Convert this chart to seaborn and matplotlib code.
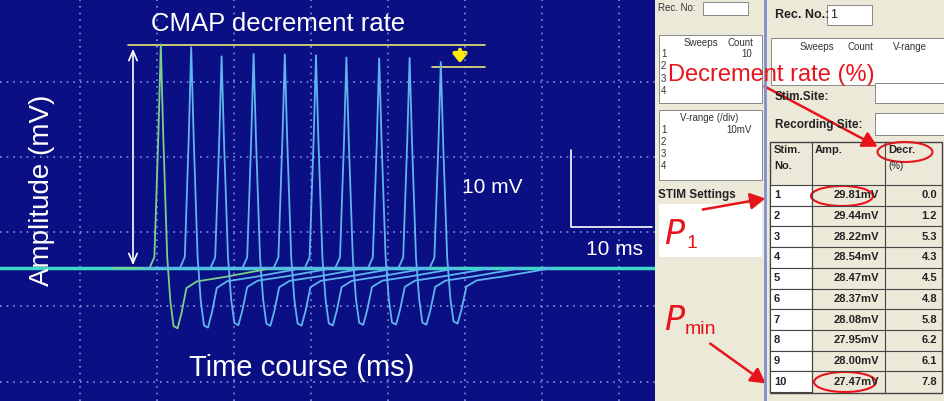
import numpy as np
import pandas as pd
import matplotlib
matplotlib.use("Agg")
import matplotlib.pyplot as plt
import seaborn as sns
from matplotlib.patches import Ellipse, Rectangle, FancyArrowPatch

sns.set_theme(style="white")
plt.rcParams['font.family'] = ['Liberation Sans', 'DejaVu Sans']

# ---- data ----
stim_no = [1, 2, 3, 4, 5, 6, 7, 8, 9, 10]
amp_mv = [29.81, 29.44, 28.22, 28.54, 28.47, 28.37, 28.08, 27.95, 28.00, 27.47]
decr_pct = [0.0, 1.2, 5.3, 4.3, 4.5, 4.8, 5.8, 6.2, 6.1, 7.8]
peak_ms = [20.1, 23.9, 27.7, 31.7, 35.6, 39.5, 43.3, 47.4, 51.2, 55.1]
# waveform template: offset from peak (ms), relative amplitude
tmpl_dt = [-6.0, -1.4, -0.8, -0.3, 0.0, 0.3, 0.8, 1.2, 1.6, 2.1, 2.6, 3.2, 4.5, 8.0, 14.0]
tmpl_rel = [0.0, 0.0, 0.05, 0.6, 1.0, 0.6, 0.05, -0.15, -0.26, -0.27, -0.2, -0.09, -0.06, -0.04, 0.0]

rows = []
for i, (pk, a) in enumerate(zip(peak_ms, amp_mv)):
    for dt, r in zip(tmpl_dt, tmpl_rel):
        rows.append({"sweep": i + 1, "t": pk + dt, "v": a * r})
df = pd.DataFrame(rows)

fig = plt.figure(figsize=(9.44, 4.01), dpi=100)
ax = fig.add_axes([0, 0, 655 / 944, 1])
ax.set_facecolor("#0b0f84")
PX = 8.0     # px per ms
PY = 7.5     # px per mV
BASE = 268
ax.set_xlim(0, 655 / PX)
ax.set_ylim((BASE - 401) / PY, BASE / PY)
for s in ax.spines.values():
    s.set_visible(False)
ax.set_xticks([]); ax.set_yticks([])

def X(px): return px / PX
def Y(py): return (BASE - py) / PY

for gy in [82, 157, 232, 306, 382]:
    ax.axhline(Y(gy), color="#8090d8", lw=1.2, ls=(0, (1, 3)))
for gx in [80, 157, 234, 311, 388, 465, 542, 619]:
    ax.axvline(X(gx), color="#8090d8", lw=1.2, ls=(0, (1, 3)))

ax.plot([0, X(655)], [0, 0], color="#3fd8c8", lw=2.5, zorder=2)
palette = {i: ("#7ccf8a" if i == 1 else "#5fb4f0") for i in stim_no}
sns.lineplot(data=df, x="t", y="v", hue="sweep", palette=palette, sort=False,
             estimator=None, legend=False, lw=1.3, ax=ax, zorder=3)
ax.set_xlabel(""); ax.set_ylabel("")

# annotations
ax.plot([X(128), X(485)], [Y(45), Y(45)], color="#e8e870", lw=1.2)
ax.plot([X(432), X(485)], [Y(67), Y(67)], color="#e8e870", lw=1.2)
ax.add_patch(FancyArrowPatch((X(460), Y(47)), (X(460), Y(66)), arrowstyle="-|>,head_width=4,head_length=5",
                             color="#ffee00", lw=3, mutation_scale=1))
ax.add_patch(FancyArrowPatch((X(133), Y(46)), (X(133), Y(268)), arrowstyle="<->,head_width=3,head_length=7",
                             color="white", lw=1.2, mutation_scale=1))
ax.text(X(278), Y(24), "CMAP decrement rate", color="white", fontsize=18.5, ha="center", va="center")
ax.text(X(42), Y(190), "Amplitude (mV)", color="white", fontsize=20, ha="center", va="center", rotation=90)
ax.text(X(302), Y(368), "Time course (ms)", color="white", fontsize=21, ha="center", va="center")
ax.text(X(492), Y(188), "10 mV", color="white", fontsize=15, ha="center", va="center")
ax.text(X(615), Y(250), "10 ms", color="white", fontsize=15, ha="center", va="center")
ax.plot([X(571), X(571), X(652)], [Y(150), Y(227), Y(227)], color="white", lw=1.2)

# ---- right panel (software screenshot) ----
rx = fig.add_axes([655 / 944, 0, 289 / 944, 1])
rx.set_xlim(655, 944); rx.set_ylim(401, 0)
rx.set_facecolor("#ece9d8")
rx.set_xticks([]); rx.set_yticks([])
for s in rx.spines.values():
    s.set_visible(False)
rx.axvline(765, color="#7f8fd0", lw=2)
g = dict(color="#333333", fontsize=7)
rx.text(658, 8, "Rec. No:", va="center", **g)
rx.add_patch(Rectangle((703, 2), 45, 13, fc="white", ec="#888888", lw=0.7))
rx.text(775, 15, "Rec. No.:", va="center", fontsize=9, weight="bold", color="#222222")
rx.add_patch(Rectangle((827, 5), 45, 20, fc="white", ec="#888888", lw=0.7))
rx.text(830, 15, "1", va="center", fontsize=9, color="#222222")
rx.add_patch(Rectangle((659, 35), 103, 68, fc="white", ec="#888888", lw=0.7))
rx.text(684, 43, "Sweeps", va="center", **g); rx.text(728, 43, "Count", va="center", **g)
rx.text(752, 54, "10", ha="right", va="center", **g)
for k, yy in enumerate([54, 66, 79, 91]):
    rx.text(661, yy, str(k + 1), va="center", **g)
rx.add_patch(Rectangle((771, 38), 173, 47, fc="white", ec="#888888", lw=0.7))
rx.text(800, 47, "Sweeps", va="center", **g); rx.text(848, 47, "Count", va="center", **g)
rx.text(893, 47, "V-range", va="center", **g)
rx.add_patch(Rectangle((659, 110), 103, 70, fc="white", ec="#888888", lw=0.7))
rx.text(680, 118, "V-range (/div)", va="center", **g)
rx.text(752, 130, "10mV", ha="right", va="center", **g)
for k, yy in enumerate([130, 142, 154, 166]):
    rx.text(661, yy, str(k + 1), va="center", **g)
rx.text(775, 97, "Stim.Site:", va="center", fontsize=8.5, weight="bold", color="#222222")
rx.add_patch(Rectangle((875, 83), 69, 20, fc="white", ec="#888888", lw=0.7))
rx.text(775, 125, "Recording Site:", va="center", fontsize=8.5, weight="bold", color="#222222")
rx.add_patch(Rectangle((875, 113), 69, 22, fc="white", ec="#888888", lw=0.7))
rx.text(658, 195, "STIM Settings", va="center", fontsize=8.5, weight="bold", color="#222222")
rx.add_patch(Rectangle((659, 204), 103, 53, fc="white", ec="none"))

# table
top, rh = 185, 20.7
cx = [770, 812, 885, 942]
rx.add_patch(Rectangle((770, 142), 172, 251, fc="none", ec="#444444", lw=1))
for xx in cx[1:3]:
    rx.plot([xx, xx], [142, 393], color="#444444", lw=0.8)
rx.text(774, 150, "Stim.", va="center", fontsize=8, weight="bold", color="#222222")
rx.text(774, 166, "No.", va="center", fontsize=8, weight="bold", color="#222222")
rx.text(815, 150, "Amp.", va="center", fontsize=8, weight="bold", color="#222222")
rx.text(888, 150, "Decr.", va="center", fontsize=8, weight="bold", color="#222222")
rx.text(888, 166, "(%)", va="center", fontsize=7, color="#222222")
for i, (n, a, d) in enumerate(zip(stim_no, amp_mv, decr_pct)):
    y0 = top + i * rh
    rx.add_patch(Rectangle((770, y0), 42, rh, fc="white", ec="#444444", lw=0.8))
    rx.plot([812, 942], [y0, y0], color="#444444", lw=0.8)
    rx.text(774, y0 + rh / 2, str(n), va="center", fontsize=8, weight="bold", color="#222222")
    rx.text(879, y0 + rh / 2, f"{a:.2f}mV", va="center", ha="right", fontsize=8, weight="bold", color="#222222")
    rx.text(937, y0 + rh / 2, f"{d:.1f}", va="center", ha="right", fontsize=8, weight="bold", color="#222222")

red = "#e8141c"
rx.text(668, 75, "Decrement rate (%)", color=red, fontsize=17, va="center")
rx.add_patch(Ellipse((905, 152), 55, 20, fc="none", ec=red, lw=1.5))
rx.add_patch(Ellipse((842, 196), 62, 20, fc="none", ec=red, lw=1.5))
rx.add_patch(Ellipse((845, 382), 62, 20, fc="none", ec=red, lw=1.5))
arr = dict(arrowstyle="-|>,head_width=5,head_length=9", color=red, lw=1.8, mutation_scale=1)
rx.add_patch(FancyArrowPatch((762, 85), (880, 148), **arr))
rx.add_patch(FancyArrowPatch((700, 210), (768, 198), **arr))
rx.add_patch(FancyArrowPatch((708, 342), (768, 385), **arr))
rx.text(664, 235, "$P$", color=red, fontsize=24, va="center")
rx.text(686, 243, "1", color=red, fontsize=14, va="center")
rx.text(664, 322, "$P$", color=red, fontsize=24, va="center")
rx.text(685, 330, "min", color=red, fontsize=14, va="center")

fig.savefig("out.png", dpi=100)
